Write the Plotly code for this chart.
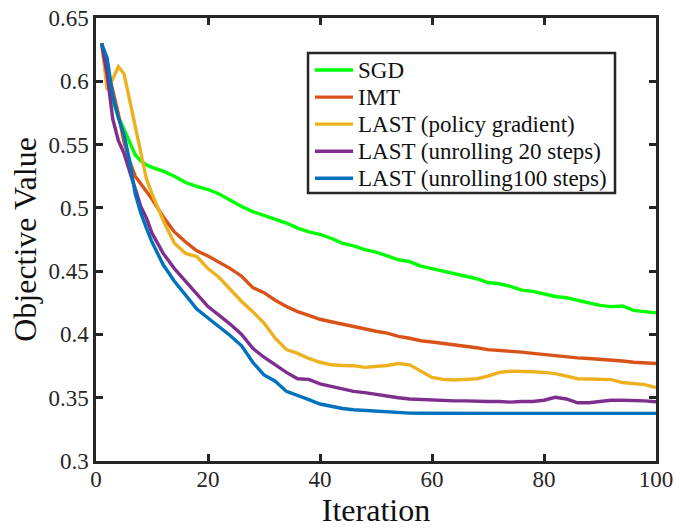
import plotly.graph_objects as go

# Iterations at which the objective was recorded
iters = [1, 2, 3, 4, 5, 6, 7, 8, 9, 10] + list(range(12, 101, 2))

sgd = [0.630, 0.606, 0.585, 0.572, 0.562, 0.551, 0.542, 0.537, 0.534, 0.532,
       0.529, 0.525, 0.520, 0.517, 0.5145, 0.511, 0.506, 0.501, 0.497, 0.494,
       0.491, 0.488, 0.484, 0.481, 0.479, 0.476, 0.472, 0.470, 0.467, 0.465,
       0.462, 0.459, 0.4575, 0.454, 0.452, 0.450, 0.448, 0.446, 0.444, 0.441,
       0.440, 0.438, 0.435, 0.434, 0.432, 0.430, 0.429, 0.427, 0.425, 0.423,
       0.422, 0.4225, 0.419, 0.418, 0.417]

imt = [0.630, 0.612, 0.592, 0.574, 0.552, 0.537, 0.525, 0.519, 0.512, 0.507,
       0.493, 0.481, 0.473, 0.466, 0.462, 0.457, 0.452, 0.446, 0.437, 0.433,
       0.427, 0.422, 0.418, 0.415, 0.412, 0.410, 0.408, 0.406, 0.404, 0.4025,
       0.401, 0.3985, 0.397, 0.395, 0.394, 0.393, 0.3915, 0.3905, 0.3895, 0.388,
       0.3875, 0.387, 0.386, 0.385, 0.384, 0.383, 0.3825, 0.3815, 0.381, 0.3805,
       0.3795, 0.379, 0.378, 0.3775, 0.377]

last_pg = [0.630, 0.593, 0.602, 0.6115, 0.606, 0.585, 0.562, 0.543, 0.523, 0.511,
           0.490, 0.472, 0.464, 0.4615, 0.452, 0.445, 0.435, 0.426, 0.418, 0.409,
           0.397, 0.388, 0.385, 0.381, 0.378, 0.376, 0.3755, 0.3753, 0.374, 0.3745,
           0.3755, 0.377, 0.376, 0.371, 0.366, 0.3645, 0.364, 0.3645, 0.365, 0.367,
           0.370, 0.371, 0.371, 0.3705, 0.370, 0.369, 0.367, 0.365, 0.3648, 0.3645,
           0.3643, 0.362, 0.361, 0.3603, 0.358]

last_u20 = [0.630, 0.605, 0.570, 0.553, 0.543, 0.530, 0.515, 0.501, 0.492, 0.480,
            0.464, 0.452, 0.442, 0.431, 0.422, 0.415, 0.408, 0.400, 0.389, 0.382,
            0.376, 0.370, 0.365, 0.3645, 0.361, 0.359, 0.3565, 0.355, 0.354, 0.3525,
            0.3515, 0.350, 0.349, 0.3485, 0.348, 0.348, 0.3475, 0.3475, 0.347, 0.347,
            0.347, 0.3465, 0.347, 0.347, 0.348, 0.3503, 0.349, 0.346, 0.346, 0.347,
            0.348, 0.348, 0.348, 0.3475, 0.3468]

last_u100 = [0.630, 0.618, 0.588, 0.571, 0.558, 0.537, 0.511, 0.496, 0.484, 0.473,
             0.455, 0.442, 0.431, 0.420, 0.413, 0.406, 0.399, 0.391, 0.378, 0.368,
             0.363, 0.355, 0.352, 0.3485, 0.345, 0.343, 0.3415, 0.3405, 0.340, 0.3395,
             0.339, 0.338, 0.3378, 0.3377, 0.3376, 0.3376, 0.3376, 0.3376, 0.3376, 0.3376,
             0.3376, 0.3376, 0.3376, 0.3376, 0.3376, 0.3376, 0.3376, 0.3376, 0.3376, 0.3376,
             0.3376, 0.3376, 0.3376, 0.3376, 0.3376]

names = ["SGD", "IMT", "LAST (policy gradient)",
         "LAST (unrolling 20 steps)", "LAST (unrolling100 steps)"]
colors = ["#00FF00", "#D95319", "#EDB120", "#7E2F8E", "#0072BD"]
series = [sgd, imt, last_pg, last_u20, last_u100]

FONT = "Liberation Serif"
LINE_W = 3.4

fig = go.Figure()
for name, color, vals in zip(names, colors, series):
    fig.add_trace(go.Scatter(x=iters, y=vals, mode="lines", name=name,
                             line=dict(color=color, width=LINE_W), showlegend=False))

# Boxed legend in the upper right part of the axes (paper coordinates)
box_x0, box_x1, box_y0, box_y1 = 0.3786, 0.9268, 0.605, 0.921
key_x0, key_x1, text_x = 0.391, 0.459, 0.465
row_top, row_step = 0.8826, 0.0611
shapes = [dict(type="rect", xref="paper", yref="paper",
               x0=box_x0, x1=box_x1, y0=box_y0, y1=box_y1,
               line=dict(color="#262626", width=2.5), fillcolor="white", layer="above")]
annotations = []
for k, (name, color) in enumerate(zip(names, colors)):
    yk = row_top - k * row_step
    shapes.append(dict(type="line", xref="paper", yref="paper",
                       x0=key_x0, x1=key_x1, y0=yk, y1=yk,
                       line=dict(color=color, width=LINE_W), layer="above"))
    annotations.append(dict(xref="paper", yref="paper", x=text_x, y=yk,
                            xanchor="left", yanchor="middle", showarrow=False,
                            text=name, font=dict(family=FONT, size=23, color="#111")))

axis_common = dict(
    showline=True, linecolor="#262626", linewidth=2.5, mirror="ticks",
    ticks="inside", ticklen=7, tickwidth=2.5, tickcolor="#262626",
    showgrid=False, zeroline=False, automargin=False,
    tickfont=dict(family=FONT, size=23, color="#262626"),
)

fig.update_layout(
    width=675, height=528,
    margin=dict(l=96, r=19, t=18, b=67),
    paper_bgcolor="white", plot_bgcolor="white",
    font=dict(family=FONT, color="#262626"),
    xaxis=dict(range=[0, 100], tickvals=[0, 20, 40, 60, 80, 100],
               ticklabelstandoff=-4,
               title=dict(text="Iteration", font=dict(family=FONT, size=32, color="#111"),
                          standoff=6),
               **axis_common),
    yaxis=dict(range=[0.3, 0.65],
               tickvals=[0.3, 0.35, 0.4, 0.45, 0.5, 0.55, 0.6, 0.65],
               ticktext=["0.3", "0.35", "0.4", "0.45", "0.5", "0.55", "0.6", "0.65"],
               title=dict(text="Objective Value", font=dict(family=FONT, size=32, color="#111"),
                          standoff=3),
               **axis_common),
    shapes=shapes,
    annotations=annotations,
    showlegend=False,
)

fig.write_html("out.html")
